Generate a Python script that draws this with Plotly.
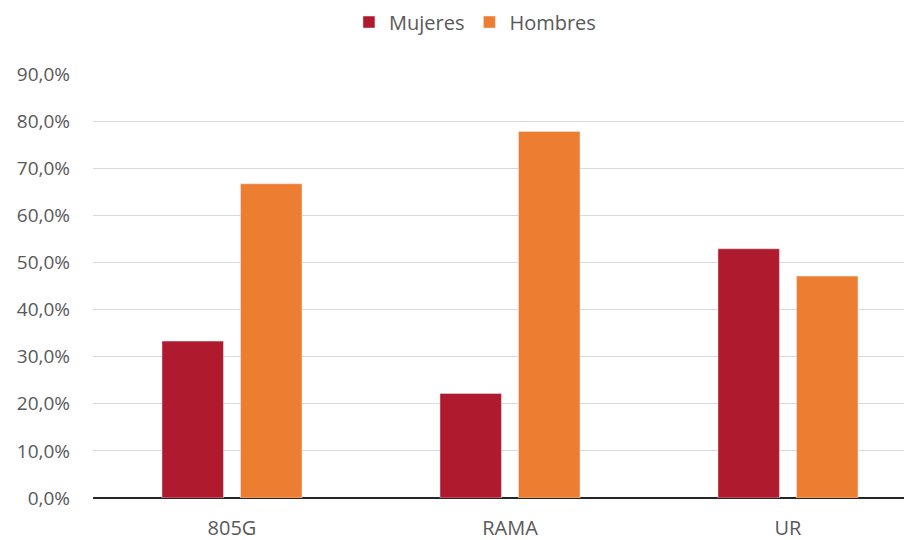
import plotly.graph_objects as go

categories = ["805G", "RAMA", "UR"]
mujeres = [0.333, 0.222, 0.529]
hombres = [0.667, 0.778, 0.471]
tick_vals = [0, 0.1, 0.2, 0.3, 0.4, 0.5, 0.6, 0.7, 0.8, 0.9]

fig = go.Figure()
fig.add_trace(go.Bar(name="Mujeres", x=categories, y=mujeres, marker_color="#B01A2E"))
fig.add_trace(go.Bar(name="Hombres", x=categories, y=hombres, marker_color="#ED7D31"))

font_color = "#595959"
fig.update_layout(
    width=912, height=540,
    paper_bgcolor="white", plot_bgcolor="white",
    barmode="group", bargap=0.435, bargroupgap=0.217,
    separators=",.",
    font=dict(family="Open Sans, Noto Sans, sans-serif", size=19, color=font_color),
    margin=dict(l=85, r=10, t=66, b=50, autoexpand=False),
    legend=dict(orientation="h", x=0.512, xanchor="center", xref="container",
                y=0.974, yanchor="middle", yref="container",
                font=dict(size=20, color=font_color), tracegroupgap=0),
    showlegend=True,
)
fig.update_xaxes(range=[-0.5, 2.439], showgrid=False, showline=False, ticks="",
                 tickfont=dict(size=20, color=font_color), zeroline=False,
                 automargin=False, ticklabelstandoff=16)
fig.update_yaxes(range=[0, 0.9], tickvals=tick_vals, tickformat=".1%",
                 showgrid=True, gridcolor="#D9D9D9", gridwidth=1,
                 zeroline=True, zerolinecolor="#262626", zerolinewidth=2,
                 tickfont=dict(size=19, color=font_color), ticklabelstandoff=22,
                 automargin=False)

fig.write_html("out.html")
